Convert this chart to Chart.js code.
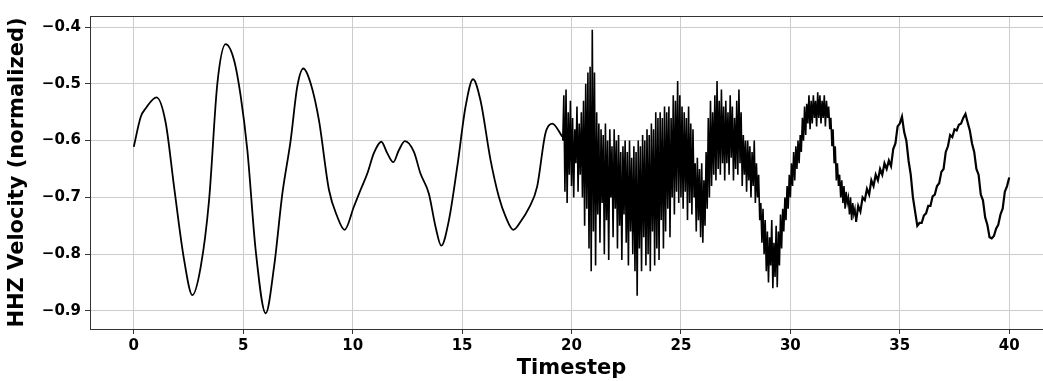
<!DOCTYPE html>
<html>
<head>
<meta charset="utf-8">
<script src="https://cdn.jsdelivr.net/npm/chart.js@4.4.1/dist/chart.umd.min.js"></script>
<style>
  html, body { margin: 0; padding: 0; background: #fff; overflow: hidden; }
  #trace { display: block; }
</style>
</head>
<body>
<canvas id="trace" width="1053" height="381"></canvas>
<script>
const smoothTime = [0, 0.32, 0.55, 1.04, 1.46, 1.84, 2.3, 2.68, 3.06, 3.44, 3.82, 4.2, 4.58, 4.89,
  5.19, 5.57, 6.03, 6.41, 6.79, 7.17, 7.47, 7.75, 8.08, 8.46, 8.92, 9.30, 9.63, 10.06, 10.36,
  10.67, 10.97, 11.31, 11.58, 11.86, 12.11, 12.39, 12.8, 13.1, 13.48, 13.79, 14.05, 14.40, 14.78,
  15.16, 15.50, 15.84, 16.30, 16.68, 16.99, 17.34, 17.67, 18.05, 18.43, 18.81, 19.12, 19.58];
const smoothVel = [-0.611, -0.558, -0.543, -0.524, -0.569, -0.681, -0.810, -0.872, -0.822, -0.705,
  -0.499, -0.430, -0.458, -0.523, -0.617, -0.793, -0.904, -0.822, -0.693, -0.599, -0.505, -0.473,
  -0.499, -0.564, -0.687, -0.734, -0.757, -0.716, -0.687, -0.658, -0.622, -0.602, -0.622, -0.638,
  -0.617, -0.601, -0.620, -0.658, -0.693, -0.752, -0.785, -0.740, -0.646, -0.540, -0.492, -0.529,
  -0.634, -0.699, -0.734, -0.757, -0.743, -0.719, -0.681, -0.587, -0.570, -0.593];

// arrival and coda, sampled every 0.05 from 19.6 to 33.0
const burstStart = 19.6;
const burstStep = 0.05;
const burstVel = [
  -0.60, -0.52, -0.69, -0.51, -0.71, -0.55, -0.66, -0.53,
  -0.68, -0.56, -0.70, -0.58, -0.64, -0.54, -0.69, -0.57, -0.66, -0.55,
  -0.70, -0.53, -0.75, -0.50, -0.72, -0.48, -0.79, -0.47, -0.83, -0.405,
  -0.76, -0.48, -0.82, -0.55, -0.73, -0.57, -0.78, -0.58, -0.71, -0.59,
  -0.80, -0.57, -0.74, -0.60, -0.81, -0.58, -0.70, -0.61, -0.77, -0.58,
  -0.72, -0.60, -0.79, -0.59, -0.75, -0.62, -0.81, -0.61, -0.73, -0.60,
  -0.78, -0.62, -0.82, -0.60, -0.76, -0.63, -0.80, -0.61, -0.83, -0.62,
  -0.873, -0.60, -0.79, -0.61, -0.83, -0.59, -0.77, -0.60, -0.82, -0.58,
  -0.80, -0.59, -0.83, -0.57, -0.76, -0.58, -0.82, -0.55, -0.79, -0.56,
  -0.81, -0.55, -0.74, -0.56, -0.79, -0.54, -0.76, -0.55, -0.72, -0.54,
  -0.77, -0.56, -0.70, -0.52, -0.73, -0.53, -0.69, -0.495, -0.71, -0.52,
  -0.70, -0.54, -0.72, -0.55, -0.69, -0.56, -0.74, -0.54, -0.71, -0.57,
  -0.73, -0.58, -0.70, -0.64, -0.76, -0.63, -0.74, -0.65, -0.77, -0.64,
  -0.78, -0.67, -0.75, -0.62, -0.72, -0.56, -0.70, -0.53, -0.68, -0.55,
  -0.66, -0.52, -0.67, -0.495, -0.65, -0.53, -0.66, -0.51, -0.64, -0.54,
  -0.67, -0.53, -0.64, -0.55, -0.66, -0.52, -0.63, -0.54, -0.67, -0.56,
  -0.65, -0.53, -0.66, -0.51, -0.64, -0.55, -0.68, -0.59, -0.66, -0.60,
  -0.69, -0.60, -0.67, -0.61, -0.70, -0.62, -0.68, -0.60, -0.71, -0.64,
  -0.70, -0.66, -0.74, -0.71, -0.78, -0.72, -0.80, -0.74, -0.83, -0.76,
  -0.85, -0.77, -0.82, -0.74, -0.86, -0.78, -0.84, -0.75, -0.858, -0.76,
  -0.82, -0.73, -0.79, -0.72, -0.76, -0.70, -0.74, -0.68, -0.72, -0.66,
  -0.70, -0.64, -0.68, -0.62, -0.67, -0.61, -0.65, -0.60, -0.64, -0.59,
  -0.62, -0.56, -0.60, -0.54, -0.59, -0.535, -0.57, -0.52, -0.58, -0.53,
  -0.57, -0.52, -0.56, -0.53, -0.575, -0.515, -0.56, -0.52, -0.57, -0.53,
  -0.56, -0.52, -0.575, -0.53, -0.56, -0.54, -0.58, -0.56, -0.61, -0.58,
  -0.64, -0.61, -0.67, -0.64, -0.68, -0.66, -0.70, -0.67, -0.71, -0.68,
  -0.72, -0.69, -0.71, -0.70, -0.73, -0.70, -0.74, -0.71, -0.73, -0.72,
  -0.743
];

// late tail, sampled every 0.1 from 33.0 to 40.0
const tailStart = 33.0;
const tailStep = 0.1;
const tailVel = [
  -0.743, -0.715, -0.725, -0.70, -0.705, -0.685, -0.695, -0.67, -0.68, -0.66,
  -0.67, -0.65, -0.66, -0.64, -0.65, -0.635, -0.645, -0.615, -0.605, -0.575,
  -0.57, -0.558, -0.585, -0.60, -0.635, -0.66, -0.70, -0.725, -0.75, -0.745,
  -0.745, -0.732, -0.728, -0.715, -0.715, -0.698, -0.695, -0.68, -0.675, -0.655,
  -0.65, -0.62, -0.61, -0.59, -0.594, -0.58, -0.582, -0.572, -0.57, -0.56,
  -0.553, -0.568, -0.582, -0.605, -0.62, -0.65, -0.66, -0.695, -0.705, -0.735,
  -0.748, -0.77, -0.772, -0.768, -0.755, -0.748, -0.73, -0.72, -0.69, -0.68,
  -0.665
];

const xTicks = [0, 5, 10, 15, 20, 25, 30, 35, 40];
const yTicks = [-0.9, -0.8, -0.7, -0.6, -0.5, -0.4];

const smoothPts = smoothTime.map((t, i) => ({ x: t, y: smoothVel[i] }));
const burstPts = burstVel.map((v, i) => ({ x: +(burstStart + i * burstStep).toFixed(2), y: v }));
const tailPts = tailVel.map((v, i) => ({ x: +(tailStart + i * tailStep).toFixed(2), y: v }));

const fontFamily = '"DejaVu Sans", sans-serif';

// matplotlib-style top spine
const topSpine = {
    id: 'topSpine',
    afterDraw(chart) {
        const { ctx, chartArea } = chart;
        ctx.save();
        ctx.strokeStyle = '#333';
        ctx.lineWidth = 1;
        ctx.beginPath();
        ctx.moveTo(chartArea.left, chartArea.top + 0.5);
        ctx.lineTo(chartArea.right, chartArea.top + 0.5);
        ctx.stroke();
        ctx.restore();
    }
};

new Chart(document.getElementById('trace').getContext('2d'), {
    type: 'line',
    data: {
        datasets: [{
            label: 'quiet',
            data: smoothPts,
            borderColor: '#000',
            borderWidth: 1.8,
            pointRadius: 0,
            cubicInterpolationMode: 'monotone'
        }, {
            label: 'burst',
            data: burstPts,
            borderColor: '#000',
            borderWidth: 1.6,
            pointRadius: 0,
            tension: 0
        }, {
            label: 'tail',
            data: tailPts,
            borderColor: '#000',
            borderWidth: 2.2,
            pointRadius: 0,
            tension: 0
        }]
    },
    options: {
        responsive: false,
        animation: false,
        layout: { padding: { top: 16, left: 0, right: 0, bottom: 0 } },
        plugins: {
            legend: { display: false },
            tooltip: { enabled: false }
        },
        scales: {
            x: {
                type: 'linear',
                min: -2,
                max: 42,
                afterBuildTicks: axis => { axis.ticks = xTicks.map(v => ({ value: v })); },
                afterFit: axis => { axis.height = 52; },
                ticks: {
                    color: '#000',
                    padding: 3,
                    maxRotation: 0,
                    font: { family: fontFamily, size: 15, weight: 'bold' }
                },
                grid: { color: '#cccccc', lineWidth: 1, tickLength: 5, tickColor: '#333' },
                border: { display: true, color: '#333', width: 1 },
                title: {
                    display: true,
                    text: 'Timestep',
                    color: '#000',
                    padding: 0,
                    font: { family: fontFamily, size: 21, weight: 'bold' }
                }
            },
            y: {
                type: 'linear',
                min: -0.9317,
                max: -0.3806,
                afterBuildTicks: axis => { axis.ticks = yTicks.map(v => ({ value: v })); },
                afterFit: axis => { axis.width = 90; },
                ticks: {
                    color: '#000',
                    padding: 4,
                    font: { family: fontFamily, size: 15, weight: 'bold' },
                    callback: v => '\u2212' + Math.abs(v).toFixed(1)
                },
                grid: { color: '#cccccc', lineWidth: 1, tickLength: 5, tickColor: '#333' },
                border: { display: true, color: '#333', width: 1 },
                title: {
                    display: true,
                    text: 'HHZ Velocity (normalized)',
                    color: '#000',
                    padding: { top: 5, bottom: 0 },
                    font: { family: fontFamily, size: 21, weight: 'bold' }
                }
            }
        }
    },
    plugins: [topSpine]
});
</script>
</body>
</html>
